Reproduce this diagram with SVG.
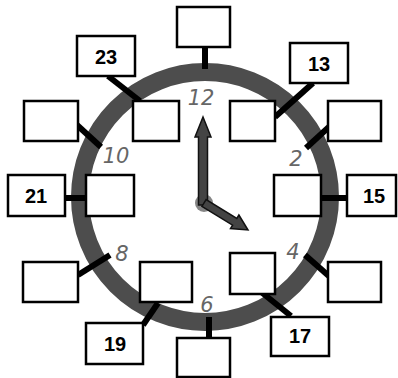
<svg xmlns="http://www.w3.org/2000/svg" width="398" height="378" viewBox="0 0 398 378">
<style>
.box{fill:#fff;stroke:#000;stroke-width:2.5}
.stick{stroke:#000;stroke-width:6;stroke-linecap:butt}
.lbl{font-family:"Liberation Sans",Arial,sans-serif;font-weight:bold;font-size:20px;fill:#000;text-anchor:middle}
.num{font-family:"DejaVu Sans","Liberation Sans",sans-serif;font-size:21px;fill:#666;text-anchor:middle;font-style:italic}
.hand{fill:#444;stroke:#111;stroke-width:1.5;stroke-linejoin:miter}
</style>
<rect width="398" height="378" fill="#fff"/>
<g id="dial">
<circle cx="205" cy="197" r="125" fill="none" stroke="#4d4d4d" stroke-width="18"/>
</g>
<g id="numbers">
<text class="num" x="201" y="105">12</text>
<text class="num" x="116" y="163">10</text>
<text class="num" x="296" y="166">2</text>
<text class="num" x="122" y="261">8</text>
<text class="num" x="293" y="259">4</text>
<text class="num" x="207" y="312">6</text>
</g>
<g id="connectors">
<line class="stick" x1="205" y1="47" x2="205" y2="69"/>
<line class="stick" x1="108" y1="76" x2="140" y2="101"/>
<line class="stick" x1="77" y1="125" x2="101" y2="147"/>
<line class="stick" x1="313" y1="83" x2="275" y2="117"/>
<line class="stick" x1="330" y1="126" x2="306" y2="148"/>
<line class="stick" x1="65" y1="198" x2="87" y2="198"/>
<line class="stick" x1="321" y1="198" x2="347" y2="198"/>
<line class="stick" x1="78" y1="275" x2="110" y2="255"/>
<line class="stick" x1="158" y1="303" x2="143" y2="325"/>
<line class="stick" x1="209" y1="317" x2="209" y2="338"/>
<line class="stick" x1="260" y1="291" x2="291" y2="316"/>
<line class="stick" x1="305" y1="255" x2="330" y2="277"/>
</g>
<g id="box-top"><rect class="box" x="177" y="7" width="53" height="40"/></g>
<g id="box-23"><rect class="box" x="77" y="36" width="58" height="40"/><text class="lbl" x="106" y="64">23</text></g>
<g id="box-11-outer"><rect class="box" x="24" y="101" width="54" height="40"/></g>
<g id="box-11-inner"><rect class="box" x="133" y="101" width="46" height="40"/></g>
<g id="box-13"><rect class="box" x="290" y="43" width="58" height="40"/><text class="lbl" x="319" y="71">13</text></g>
<g id="box-1-inner"><rect class="box" x="230" y="101" width="45" height="40"/></g>
<g id="box-2-outer"><rect class="box" x="328" y="101" width="53" height="40"/></g>
<g id="box-21"><rect class="box" x="8" y="175" width="57" height="41"/><text class="lbl" x="36" y="203">21</text></g>
<g id="box-9-inner"><rect class="box" x="86" y="175" width="48" height="41"/></g>
<g id="box-3-inner"><rect class="box" x="274" y="175" width="47" height="41"/></g>
<g id="box-15"><rect class="box" x="347" y="175" width="49" height="41"/><text class="lbl" x="374" y="203">15</text></g>
<g id="box-8-outer"><rect class="box" x="23" y="262" width="55" height="40"/></g>
<g id="box-7-inner"><rect class="box" x="140" y="262" width="52" height="40"/></g>
<g id="box-19"><rect class="box" x="86" y="323" width="57" height="41"/><text class="lbl" x="115" y="351">19</text></g>
<g id="box-bottom"><rect class="box" x="177" y="338" width="53" height="39"/></g>
<g id="box-5-inner"><rect class="box" x="230" y="253" width="45" height="41"/></g>
<g id="box-17"><rect class="box" x="271" y="317" width="58" height="39"/><text class="lbl" x="300" y="343">17</text></g>
<g id="box-4-outer"><rect class="box" x="328" y="262" width="53" height="40"/></g>
<g id="hands">
<circle cx="204" cy="203" r="9" fill="#666" opacity="0.8"/>
<polygon class="hand" points="198.5,205 198.5,137 195,137 203,117 211,137 207.5,137 207.5,205"/>
<polygon class="hand" points="201.9,206.4 232.6,225.2 230.5,228.6 248,230 238.9,215 236.8,218.4 206.1,199.6"/>
</g>
</svg>
